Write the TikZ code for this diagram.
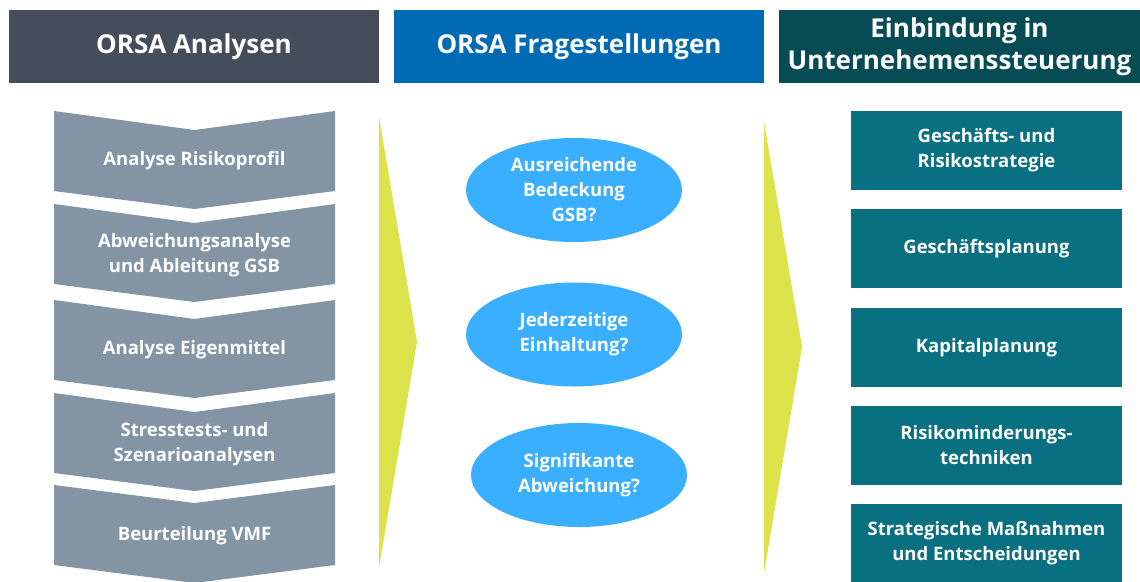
\documentclass[tikz,border=0pt]{standalone}
\usepackage{fontspec}
\setmainfont{Open Sans}
\usepackage{tikz}
\usetikzlibrary{shapes.geometric}

\definecolor{headgray}{RGB}{67,78,90}
\definecolor{headblue}{RGB}{0,106,180}
\definecolor{headteal}{RGB}{7,75,85}
\definecolor{stepgray}{RGB}{131,148,165}
\definecolor{arrowyellow}{RGB}{220,227,74}
\definecolor{askblue}{RGB}{58,175,255}
\definecolor{useteal}{RGB}{8,112,128}

\begin{document}
\begin{tikzpicture}[x=1pt, y=-1pt,
head_style/.style={rectangle,minimum height=73pt,inner sep=0pt,text=white,align=center,font=\bfseries\fontsize{26}{32}\selectfont},
step_fill/.style={fill=stepgray},
step_style/.style={text=white,align=center,inner sep=0pt,font=\bfseries\fontsize{18.5}{25}\selectfont},
ask_style/.style={ellipse,fill=askblue,minimum width=216pt,minimum height=104pt,inner sep=0pt,text=white,align=center,font=\bfseries\fontsize{18.5}{25}\selectfont},
use_style/.style={rectangle,fill=useteal,minimum width=271pt,minimum height=79pt,inner sep=0pt,text=white,align=center,font=\bfseries\fontsize{18.5}{25}\selectfont},
arrow_style/.style={fill=arrowyellow}]
\useasboundingbox (0,0) rectangle (1140,581);

% headers
\node[head_style,fill=headgray,minimum width=370pt] (h1) at (194,46.5) {ORSA Analysen};
\node[head_style,fill=headblue,minimum width=370pt] (h2) at (579,46.5) {ORSA Fragestellungen};
\node[head_style,fill=headteal,minimum width=361pt] (h3) at (959.5,46.5) {Einbindung in\\Unternehemenssteuerung};

% analyses
\fill[step_fill] (54,111) -- (194.5,130) -- (335,111) -- (335,191) -- (194.5,209) -- (54,191) -- cycle;
\node[step_style] (s1) at (194.5,161) {Analyse Risikoprofil};
\fill[step_fill] (54,204) -- (194.5,223) -- (335,204) -- (335,284) -- (194.5,302) -- (54,284) -- cycle;
\node[step_style] (s2) at (194.5,255) {Abweichungsanalyse\\und Ableitung GSB};
\fill[step_fill] (54,300) -- (194.5,319) -- (335,300) -- (335,380) -- (194.5,398) -- (54,380) -- cycle;
\node[step_style] (s3) at (194.5,350) {Analyse Eigenmittel};
\fill[step_fill] (54,393) -- (194.5,412) -- (335,393) -- (335,473) -- (194.5,491) -- (54,473) -- cycle;
\node[step_style] (s4) at (194.5,444) {Stresstests- und\\Szenarioanalysen};
\fill[step_fill] (54,485) -- (194.5,503) -- (335,485) -- (335,565) -- (194.5,583) -- (54,565) -- cycle;
\node[step_style] (s5) at (194.5,536) {Beurteilung VMF};

% arrows
\fill[arrow_style] (379,117) -- (417,342) -- (379,568) -- cycle;
\fill[arrow_style] (764,122) -- (802,347) -- (764,573) -- cycle;

% questions
\node[ask_style] (q1) at (574,190) {Ausreichende\\Bedeckung\\GSB?};
\node[ask_style] (q2) at (574,334.5) {Jederzeitige\\Einhaltung?};
\node[ask_style] (q3) at (579,475) {Signifikante\\Abweichung?};

% steering
\node[use_style] (u1) at (986.5,150.5) {Geschäfts- und\\Risikostrategie};
\node[use_style] (u2) at (986.5,248.5) {Geschäftsplanung};
\node[use_style] (u3) at (986.5,347.5) {Kapitalplanung};
\node[use_style] (u4) at (986.5,445.5) {Risikominderungs-\\techniken};
\node[use_style] (u5) at (986.5,543.5) {Strategische Maßnahmen\\und Entscheidungen};
\end{tikzpicture}
\end{document}
